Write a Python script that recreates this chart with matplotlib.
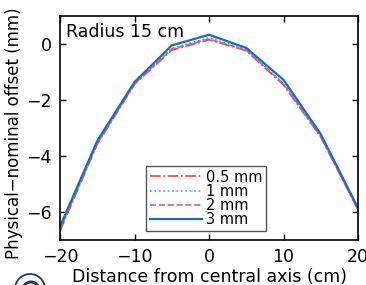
import matplotlib.pyplot as plt
from matplotlib.patches import Ellipse, Arc

# distance from central axis (cm)
distance = [-20, -15, -10, -5, 0, 5, 10, 15, 20]

# physical - nominal offset (mm) per pixel size
offset_05mm = [-6.68, -3.58, -1.44, -0.22, 0.15, -0.24, -1.46, -3.32, -5.92]
offset_1mm = [-6.62, -3.54, -1.41, -0.15, 0.22, -0.20, -1.40, -3.28, -5.90]
offset_2mm = [-6.60, -3.55, -1.42, -0.18, 0.18, -0.22, -1.42, -3.30, -5.90]
offset_3mm = [-6.52, -3.46, -1.36, -0.05, 0.33, -0.14, -1.28, -3.22, -5.86]

labels = ['0.5 mm', '1 mm', '2 mm', '3 mm']

W, H = 366, 285
plt.rc('font', size=12.5)
fig = plt.figure(figsize=(W / 100, H / 100), dpi=100, facecolor='white')
ax = fig.add_axes([60 / W, 1 - 240 / H, 298 / W, 224 / H])

ax.plot(distance, offset_05mm, linestyle='-.', color='#e8453c', linewidth=1.2, label=labels[0])
ax.plot(distance, offset_1mm, linestyle=':', color='#3fae8c', linewidth=1.2, label=labels[1])
ax.plot(distance, offset_2mm, linestyle='--', color='#c45fb4', linewidth=1.2, label=labels[2])
ax.plot(distance, offset_3mm, linestyle='-', color='#1a6db3', linewidth=1.6, label=labels[3])

ax.set_xlim(-20, 20)
ax.set_ylim(-7, 1)
ax.set_xticks([-20, -10, 0, 10, 20])
ax.set_yticks([0, -2, -4, -6])
ax.tick_params(direction='in', top=True, right=True, length=4, width=1, pad=6)
for s in ax.spines.values():
    s.set_linewidth(1.2)

ax.set_xlabel('Distance from central axis (cm)', labelpad=1)
ax.set_ylabel('Physical\u2212nominal offset (mm)', fontsize=12)
ax.yaxis.set_label_coords((23 - 60) / 298, (240 - 133) / 224)
ax.text(0.02, 0.97, 'Radius 15 cm', transform=ax.transAxes, ha='left', va='top', fontsize=12.5)

leg = ax.legend(loc='lower center', bbox_to_anchor=(0.49, 0.04), fontsize=10.5,
                handlelength=3.6, handletextpad=0.25, labelspacing=-0.05,
                borderpad=0.25, borderaxespad=0, fancybox=False, framealpha=1,
                edgecolor='#555555')
leg.get_frame().set_linewidth(1.0)

# partial circled badge cut off at the bottom-left corner
fig.patches.append(Ellipse((30 / W, 1 - 289 / H), 30 / W, 30 / H, transform=fig.transFigure,
                           fill=False, edgecolor='#1c3c6c', linewidth=1.3))
fig.patches.append(Arc((31 / W, 1 - 290 / H), 16 / W, 16 / H, theta1=20, theta2=170,
                       transform=fig.transFigure, edgecolor='#1c3c6c', linewidth=2.2))

plt.savefig('out.png', dpi=100, facecolor='white')
